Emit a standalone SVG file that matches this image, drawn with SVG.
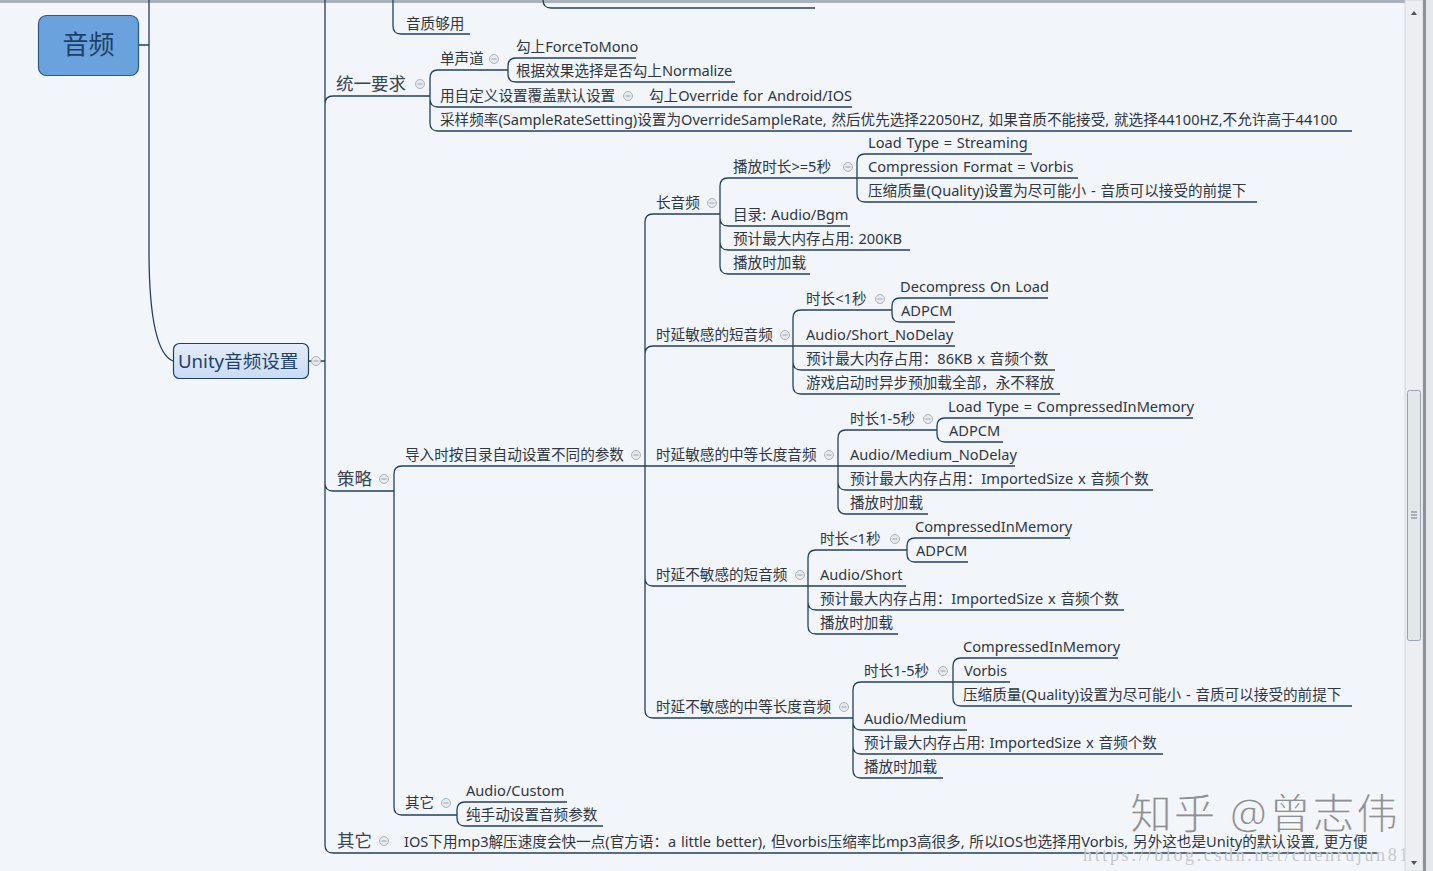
<svg xmlns="http://www.w3.org/2000/svg" xmlns:xlink="http://www.w3.org/1999/xlink" width="1433" height="871" viewBox="0 0 1433 871">
<style>
.ln{fill:none;stroke:#23405e;stroke-width:1.3}
.t{font-family:"Noto Sans","Noto Sans CJK SC",sans-serif;font-size:14.6px;fill:#2e3742;word-spacing:1px}
.t2{font-size:17.5px;fill:#3a4350}
.ic circle{fill:#e6eaef;stroke:#aab3bd;stroke-width:1}
.ic line{stroke:#9aa4ae;stroke-width:1}
</style>
<defs>
<g id="col" class="ic"><circle cx="0" cy="0" r="4.5"/><line x1="-2.5" y1="0" x2="2.5" y2="0"/></g>
<linearGradient id="ug" x1="0" y1="0" x2="0" y2="1"><stop offset="0" stop-color="#e4edf9"/><stop offset="1" stop-color="#c9dbf3"/></linearGradient>
</defs>
<rect width="1433" height="871" fill="#f2f5f9"/>
<rect x="0" y="0" width="1433" height="3" fill="#a9b1ba"/>

<g id="connectors">
<path class="ln" d="M138,45 H149 M149,0 V250 C149,320 158,355 173,361"/>
<path class="ln" d="M308,361 H325 M325,361 V0 M325,104 Q325,96 333,96 H430 M325,361 V483 Q325,491 333,491 H394 M325,361 V845 Q325,853 333,853 H1378"/>
<path class="ln" d="M393,0 V26 Q393,34 401,34 H470 M543,0 Q543,8 551,8 H815"/>
<path class="ln" d="M430,96 V78 Q430,70 438,70 H508 M430,96 V99 Q430,107 438,107 H852 M430,96 V123 Q430,131 438,131 H1352"/>
<path class="ln" d="M508,70 V66 Q508,58 516,58 H636 M508,70 V74 Q508,82 516,82 H735"/>
<path class="ln" d="M394,491 V474 Q394,466 402,466 H645 M394,491 V807 Q394,815 402,815 H457"/>
<path class="ln" d="M457,815 V810 Q457,802 465,802 H567 M457,815 V818 Q457,826 465,826 H603"/>
<path class="ln" d="M645,466 V222 Q645,214 653,214 H720 M645,466 V354 Q645,346 653,346 H793 M645,466 H838 M645,466 V578 Q645,586 653,586 H808 M645,466 V710 Q645,718 653,718 H853"/>
<path class="ln" d="M720,214 V186 Q720,178 728,178 H857 M720,214 V218 Q720,226 728,226 H850 M720,214 V242 Q720,250 728,250 H910 M720,214 V266 Q720,274 728,274 H810"/>
<path class="ln" d="M857,178 V162 Q857,154 865,154 H1032 M857,178 H1078 M857,178 V194 Q857,202 865,202 H1257"/>
<path class="ln" d="M793,346 V318 Q793,310 801,310 H892 M793,346 H955 M793,346 V362 Q793,370 801,370 H1055 M793,346 V386 Q793,394 801,394 H1060"/>
<path class="ln" d="M892,310 V306 Q892,298 900,298 H1048 M892,310 V314 Q892,322 900,322 H955"/>
<path class="ln" d="M838,466 V438 Q838,430 846,430 H937 M838,466 H1015 M838,466 V482 Q838,490 846,490 H1153 M838,466 V506 Q838,514 846,514 H928"/>
<path class="ln" d="M937,430 V426 Q937,418 945,418 H1193 M937,430 V434 Q937,442 945,442 H1003"/>
<path class="ln" d="M808,586 V558 Q808,550 816,550 H907 M808,586 H906 M808,586 V602 Q808,610 816,610 H1124 M808,586 V626 Q808,634 816,634 H898"/>
<path class="ln" d="M907,550 V546 Q907,538 915,538 H1070 M907,550 V554 Q907,562 915,562 H968"/>
<path class="ln" d="M853,718 V690 Q853,682 861,682 H953 M853,718 V722 Q853,730 861,730 H967 M853,718 V746 Q853,754 861,754 H1163 M853,718 V770 Q853,778 861,778 H943"/>
<path class="ln" d="M953,682 V666 Q953,658 961,658 H1118 M953,682 H1010 M953,682 V698 Q953,706 961,706 H1352"/>
</g>

<g id="n-root"><rect x="38.5" y="15.5" width="100" height="60" rx="8" fill="#6aa2de" stroke="#2b5a8a" stroke-width="1.2"/><text x="88.5" y="54" text-anchor="middle" class="t" style="font-size:26px;fill:#1e3f66">音频</text></g>
<g id="n-unity"><rect x="173.5" y="343.5" width="135" height="35" rx="6" fill="url(#ug)" stroke="#1e3f66" stroke-width="1.2"/><text x="178" y="368" class="t" style="font-size:18.6px;fill:#1e3f66">Unity音频设置</text><use href="#col" x="316" y="361"/></g>

<g id="n-yinzhi"><text class="t" x="406" y="29">音质够用</text></g>

<g id="n-tongyi"><text class="t t2" x="336" y="90">统一要求</text><use href="#col" x="420" y="84"/></g>
<g id="n-mono"><text class="t" x="440" y="64">单声道</text><use href="#col" x="494" y="59"/></g>
<g id="n-force"><text class="t" x="516" y="52">勾上ForceToMono</text></g>
<g id="n-normalize"><text class="t" x="516" y="76">根据效果选择是否勾上Normalize</text></g>
<g id="n-custom"><text class="t" x="440" y="101">用自定义设置覆盖默认设置</text><use href="#col" x="628" y="96"/></g>
<g id="n-override"><text class="t" x="649" y="101">勾上Override for Android/IOS</text></g>
<g id="n-rate"><text class="t" x="440" y="125">采样频率(SampleRateSetting)设置为OverrideSampleRate, 然后优先选择22050HZ, 如果音质不能接受, 就选择44100HZ,不允许高于44100</text></g>

<g id="n-celue"><text class="t t2" x="337" y="485">策略</text><use href="#col" x="384" y="479"/></g>
<g id="n-import"><text class="t" x="405" y="460">导入时按目录自动设置不同的参数</text><use href="#col" x="636" y="455"/></g>

<g id="n-long"><text class="t" x="656" y="208">长音频</text><use href="#col" x="712" y="203"/></g>
<g id="n-long-dur"><text class="t" x="733" y="172">播放时长&gt;=5秒</text><use href="#col" x="848" y="167"/></g>
<g id="n-long-lt"><text class="t" x="868" y="148">Load Type = Streaming</text></g>
<g id="n-long-cf"><text class="t" x="868" y="172">Compression Format = Vorbis</text></g>
<g id="n-long-q"><text class="t" x="868" y="196">压缩质量(Quality)设置为尽可能小 - 音质可以接受的前提下</text></g>
<g id="n-long-dir"><text class="t" x="733" y="220">目录: Audio/Bgm</text></g>
<g id="n-long-mem"><text class="t" x="733" y="244">预计最大内存占用: 200KB</text></g>
<g id="n-long-load"><text class="t" x="733" y="268">播放时加载</text></g>

<g id="n-ss"><text class="t" x="656" y="340">时延敏感的短音频</text><use href="#col" x="785" y="335"/></g>
<g id="n-ss-dur"><text class="t" x="806" y="304">时长&lt;1秒</text><use href="#col" x="880" y="299"/></g>
<g id="n-ss-dol"><text class="t" x="900" y="292">Decompress On Load</text></g>
<g id="n-ss-adpcm"><text class="t" x="901" y="316">ADPCM</text></g>
<g id="n-ss-dir"><text class="t" x="806" y="340">Audio/Short_NoDelay</text></g>
<g id="n-ss-mem"><text class="t" x="806" y="364">预计最大内存占用：86KB x 音频个数</text></g>
<g id="n-ss-load"><text class="t" x="806" y="388">游戏启动时异步预加载全部，永不释放</text></g>

<g id="n-sm"><text class="t" x="656" y="460">时延敏感的中等长度音频</text><use href="#col" x="829" y="455"/></g>
<g id="n-sm-dur"><text class="t" x="850" y="424">时长1-5秒</text><use href="#col" x="928" y="419"/></g>
<g id="n-sm-lt"><text class="t" x="948" y="412">Load Type = CompressedInMemory</text></g>
<g id="n-sm-adpcm"><text class="t" x="949" y="436">ADPCM</text></g>
<g id="n-sm-dir"><text class="t" x="850" y="460">Audio/Medium_NoDelay</text></g>
<g id="n-sm-mem"><text class="t" x="850" y="484">预计最大内存占用：ImportedSize x 音频个数</text></g>
<g id="n-sm-load"><text class="t" x="850" y="508">播放时加载</text></g>

<g id="n-is"><text class="t" x="656" y="580">时延不敏感的短音频</text><use href="#col" x="800" y="575"/></g>
<g id="n-is-dur"><text class="t" x="820" y="544">时长&lt;1秒</text><use href="#col" x="895" y="539"/></g>
<g id="n-is-cim"><text class="t" x="915" y="532">CompressedInMemory</text></g>
<g id="n-is-adpcm"><text class="t" x="916" y="556">ADPCM</text></g>
<g id="n-is-dir"><text class="t" x="820" y="580">Audio/Short</text></g>
<g id="n-is-mem"><text class="t" x="820" y="604">预计最大内存占用：ImportedSize x 音频个数</text></g>
<g id="n-is-load"><text class="t" x="820" y="628">播放时加载</text></g>

<g id="n-im"><text class="t" x="656" y="712">时延不敏感的中等长度音频</text><use href="#col" x="844" y="707"/></g>
<g id="n-im-dur"><text class="t" x="864" y="676">时长1-5秒</text><use href="#col" x="943" y="671"/></g>
<g id="n-im-cim"><text class="t" x="963" y="652">CompressedInMemory</text></g>
<g id="n-im-vorbis"><text class="t" x="964" y="676">Vorbis</text></g>
<g id="n-im-q"><text class="t" x="963" y="700">压缩质量(Quality)设置为尽可能小 - 音质可以接受的前提下</text></g>
<g id="n-im-dir"><text class="t" x="864" y="724">Audio/Medium</text></g>
<g id="n-im-mem"><text class="t" x="864" y="748">预计最大内存占用: ImportedSize x 音频个数</text></g>
<g id="n-im-load"><text class="t" x="864" y="772">播放时加载</text></g>

<g id="n-other1"><text class="t" x="405" y="808">其它</text><use href="#col" x="446" y="803"/></g>
<g id="n-custom-dir"><text class="t" x="466" y="796">Audio/Custom</text></g>
<g id="n-manual"><text class="t" x="466" y="820">纯手动设置音频参数</text></g>

<g id="n-other2"><text class="t t2" x="337" y="847">其它</text><use href="#col" x="384" y="841"/></g>
<g id="n-ios"><text class="t" x="404" y="847">IOS下用mp3解压速度会快一点(官方语：a little better), 但vorbis压缩率比mp3高很多, 所以IOS也选择用Vorbis, 另外这也是Unity的默认设置, 更方便</text></g>

<g id="watermark">
<text x="1083" y="861" style="font-family:'Liberation Serif',serif;font-size:18px;fill:#c4c9cf" textLength="337" lengthAdjust="spacing">https://blog.csdn.net/chenrujun818</text>
<text x="1130" y="829" style="font-family:'Noto Sans','Noto Sans CJK SC',sans-serif;font-size:42px;fill:#8e9196;stroke:#ffffff;stroke-width:0.8" textLength="268" lengthAdjust="spacing">知乎 @曾志伟</text>
</g>

<g id="scrollbar">
<rect x="1405" y="0" width="18" height="871" fill="#eceef1" stroke="#d3d7db"/>
<rect x="1407.5" y="390.5" width="13" height="250" rx="2" fill="#e3e6eb" stroke="#9aa2ac"/>
<path d="M1411,512 H1417 M1411,515 H1417 M1411,518 H1417" stroke="#6f7780" stroke-width="1"/>
<path d="M1411,15 L1414,11 L1417,15 Z M1411,861 L1414,865 L1417,861 Z" fill="#4a5058"/>
<rect x="1423" y="0" width="3" height="871" fill="#8c949c"/>
<rect x="1426" y="0" width="7" height="871" fill="#e6e8eb"/>
</g>
</svg>
